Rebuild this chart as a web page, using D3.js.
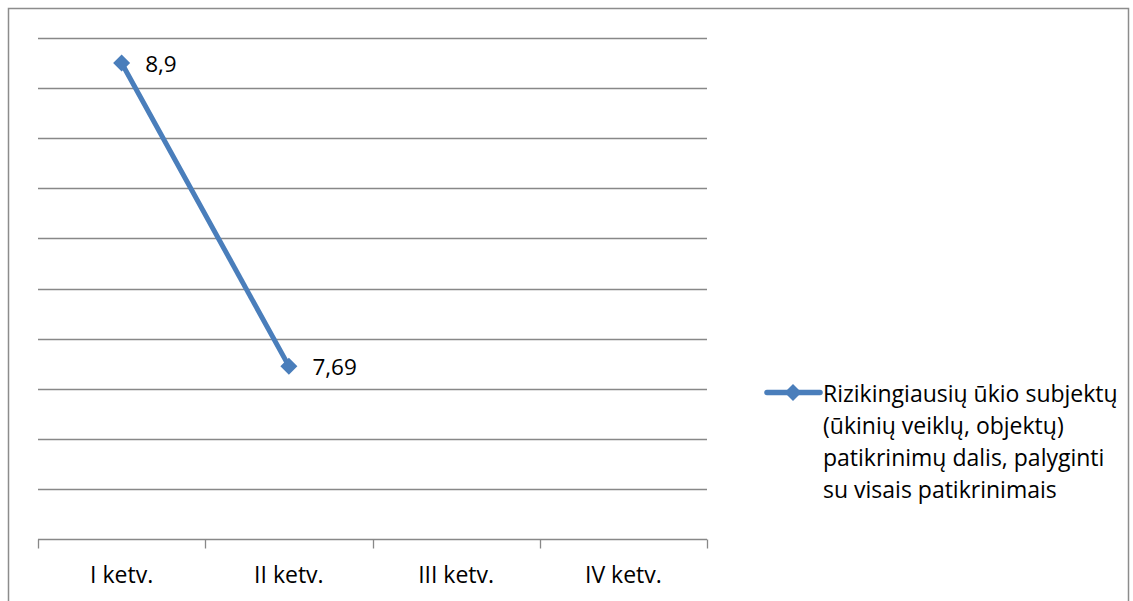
<!DOCTYPE html>
<html>
<head>
<meta charset="utf-8">
<script src="https://cdn.jsdelivr.net/npm/d3@7"></script>
<style>
  html, body { margin: 0; padding: 0; background: #fff; }
  svg { display: block; }
</style>
</head>
<body>
<div id="chart"></div>
<script>
const quarters = ["I ketv.", "II ketv.", "III ketv.", "IV ketv."];
const values = [8.9, 7.69, null, null];
const valueLabels = ["8,9", "7,69", "", ""];
const seriesName = [
    "Rizikingiausių ūkio subjektų",
    "(ūkinių veiklų, objektų)",
    "patikrinimų dalis, palyginti",
    "su visais patikrinimais"
];

const W = 1133, H = 601;
const margin = { top: 38, left: 38 };
const plotW = 669, plotH = 501;
const lineColor = "#4a7ebb";
const gridColor = "#888888";
const font = "'Open Sans', sans-serif";

const svg = d3.select("#chart").append("svg")
    .attr("width", W)
    .attr("height", H);

// Outer frame
svg.append("rect")
    .attr("x", 8.5).attr("y", 8.5)
    .attr("width", 1120).attr("height", 620)
    .attr("fill", "none")
    .attr("stroke", "#8c8c8c")
    .attr("stroke-width", 1.5);

const g = svg.append("g")
    .attr("transform", `translate(${margin.left}, ${margin.top})`);

const x = d3.scaleBand()
    .domain(quarters)
    .range([0, plotW]);

const y = d3.scaleLinear()
    .domain([7, 9])
    .range([plotH, 0]);

// Gridlines
g.append("g")
    .selectAll("line")
    .data(d3.range(7.2, 9.01, 0.2))
    .enter()
    .append("line")
    .attr("x1", 0).attr("x2", plotW)
    .attr("y1", d => Math.round(y(d)) + 0.5)
    .attr("y2", d => Math.round(y(d)) + 0.5)
    .attr("stroke", gridColor)
    .attr("stroke-width", 1.3);

// X axis
const xAxis = g.append("g")
    .attr("transform", `translate(0, ${Math.round(plotH) + 0.5})`);

xAxis.append("line")
    .attr("x1", 0).attr("x2", plotW)
    .attr("stroke", gridColor)
    .attr("stroke-width", 1.3);

xAxis.selectAll(".tick")
    .data(d3.range(quarters.length + 1))
    .enter()
    .append("line")
    .attr("x1", i => Math.round(i * x.step()) + 0.5)
    .attr("x2", i => Math.round(i * x.step()) + 0.5)
    .attr("y1", 0).attr("y2", 9)
    .attr("stroke", gridColor)
    .attr("stroke-width", 1.3);

xAxis.selectAll(".label")
    .data(quarters)
    .enter()
    .append("text")
    .attr("x", d => x(d) + x.bandwidth() / 2)
    .attr("y", 43)
    .attr("text-anchor", "middle")
    .style("font-family", font)
    .style("font-size", "23px")
    .style("fill", "#000")
    .text(d => d);

// Line
const pts = quarters.map((q, i) => ({ q, v: values[i], label: valueLabels[i] }))
    .filter(d => d.v !== null);

const line = d3.line()
    .x(d => x(d.q) + x.bandwidth() / 2)
    .y(d => y(d.v));

g.append("path")
    .datum(pts)
    .attr("d", line)
    .attr("fill", "none")
    .attr("stroke", lineColor)
    .attr("stroke-width", 5)
    .attr("stroke-linecap", "round");

const diamond = d3.symbol().type(d3.symbolDiamond2).size(185);

g.selectAll(".marker")
    .data(pts)
    .enter()
    .append("path")
    .attr("transform", d => `translate(${x(d.q) + x.bandwidth() / 2}, ${y(d.v)})`)
    .attr("d", diamond)
    .attr("fill", lineColor);

g.selectAll(".value")
    .data(pts)
    .enter()
    .append("text")
    .attr("x", d => x(d.q) + x.bandwidth() / 2 + 23.5)
    .attr("y", d => y(d.v) + 8.5)
    .style("font-family", font)
    .style("font-size", "22.5px")
    .style("fill", "#000")
    .text(d => d.label);

// Legend
const legend = svg.append("g")
    .attr("transform", "translate(765, 392.5)");

legend.append("line")
    .attr("x1", 2).attr("x2", 55)
    .attr("stroke", lineColor)
    .attr("stroke-width", 5.5)
    .attr("stroke-linecap", "round");

legend.append("path")
    .attr("transform", "translate(28, 0)")
    .attr("d", diamond)
    .attr("fill", lineColor);

legend.selectAll("text")
    .data(seriesName)
    .enter()
    .append("text")
    .attr("x", 58)
    .attr("y", (d, i) => 9 + i * 32)
    .style("font-family", font)
    .style("font-size", "23px")
    .style("fill", "#000")
    .text(d => d);
</script>
</body>
</html>
